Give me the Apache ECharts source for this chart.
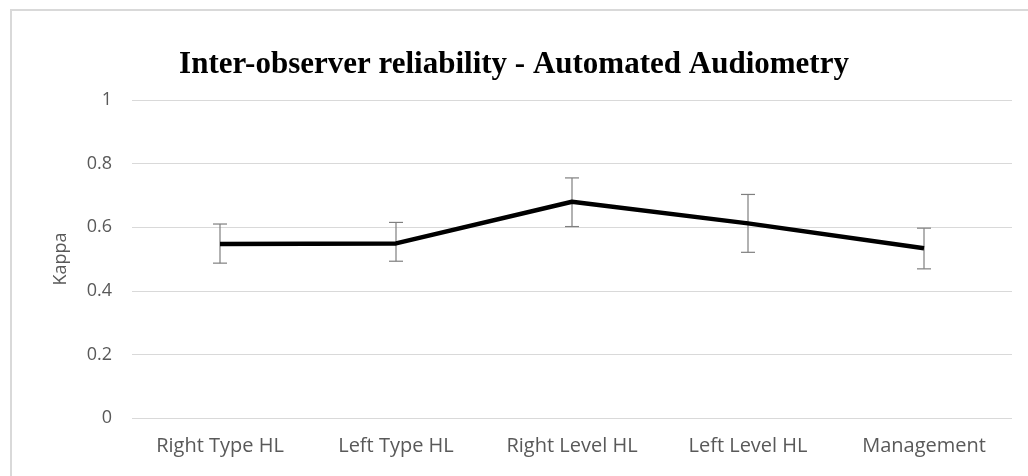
<!DOCTYPE html>
<html>
<head>
<meta charset="utf-8">
<script src="https://cdn.jsdelivr.net/npm/echarts@6/dist/echarts.min.js"></script>
<style>
  html, body { margin: 0; padding: 0; background: #fff; }
  #chart { width: 1028px; height: 476px; }
</style>
</head>
<body>
<div id="chart"></div>
<script>
const categories = ['Right Type HL', 'Left Type HL', 'Right Level HL', 'Left Level HL', 'Management'];
const kappa = [0.547, 0.549, 0.680, 0.612, 0.534];
const lower = [0.487, 0.493, 0.602, 0.521, 0.469];
const upper = [0.610, 0.615, 0.755, 0.703, 0.597];
const yTicks = [0, 0.2, 0.4, 0.6, 0.8, 1];

const chart = echarts.init(document.getElementById('chart'));

const errorData = categories.map((c, i) => [i, lower[i], upper[i]]);

const option = {
  backgroundColor: '#fff',
  animation: false,
  title: {
    text: 'Inter-observer reliability - Automated Audiometry',
    left: 'center',
    top: 44,
    textStyle: {
      fontFamily: 'Liberation Serif',
      fontWeight: 'bold',
      fontSize: 31,
      color: '#000'
    }
  },
  graphic: [{
    type: 'rect',
    shape: { x: 11, y: 10, width: 1030, height: 480 },
    style: { fill: 'none', stroke: '#d9d9d9', lineWidth: 2 },
    silent: true
  }],
  grid: {
    left: 132,
    right: 16,
    top: 100,
    bottom: 58
  },
  xAxis: {
    type: 'category',
    data: categories,
    axisLine: { show: false },
    axisTick: { show: false },
    axisLabel: {
      color: '#595959',
      fontFamily: 'Open Sans',
      fontSize: 20,
      margin: 18
    }
  },
  yAxis: {
    type: 'value',
    min: 0,
    max: 1,
    interval: 0.2,
    name: 'Kappa',
    nameLocation: 'middle',
    nameGap: 62,
    nameTextStyle: {
      color: '#595959',
      fontFamily: 'Open Sans',
      fontSize: 18
    },
    axisLine: { show: false },
    axisTick: { show: false },
    axisLabel: {
      color: '#595959',
      fontFamily: 'Open Sans',
      fontSize: 18,
      margin: 20,
      formatter: v => yTicks.includes(+v.toFixed(1)) ? String(+v.toFixed(1)) : ''
    },
    splitLine: {
      lineStyle: { color: '#d9d9d9', width: 1 }
    }
  },
  series: [
    {
      name: 'Kappa',
      type: 'line',
      data: kappa,
      symbol: 'none',
      lineStyle: { color: '#000', width: 4.5 },
      z: 3
    },
    {
      name: 'CI',
      type: 'custom',
      data: errorData,
      z: 2,
      renderItem: function (params, api) {
        const x = api.value(0);
        const lo = api.coord([x, api.value(1)]);
        const hi = api.coord([x, api.value(2)]);
        const half = 7;
        const style = { stroke: '#7f7f7f', lineWidth: 1.2 };
        return {
          type: 'group',
          children: [
            { type: 'line', shape: { x1: hi[0], y1: hi[1], x2: lo[0], y2: lo[1] }, style: style },
            { type: 'line', shape: { x1: hi[0] - half, y1: hi[1], x2: hi[0] + half, y2: hi[1] }, style: style },
            { type: 'line', shape: { x1: lo[0] - half, y1: lo[1], x2: lo[0] + half, y2: lo[1] }, style: style }
          ]
        };
      }
    }
  ]
};

chart.setOption(option);
</script>
</body>
</html>
